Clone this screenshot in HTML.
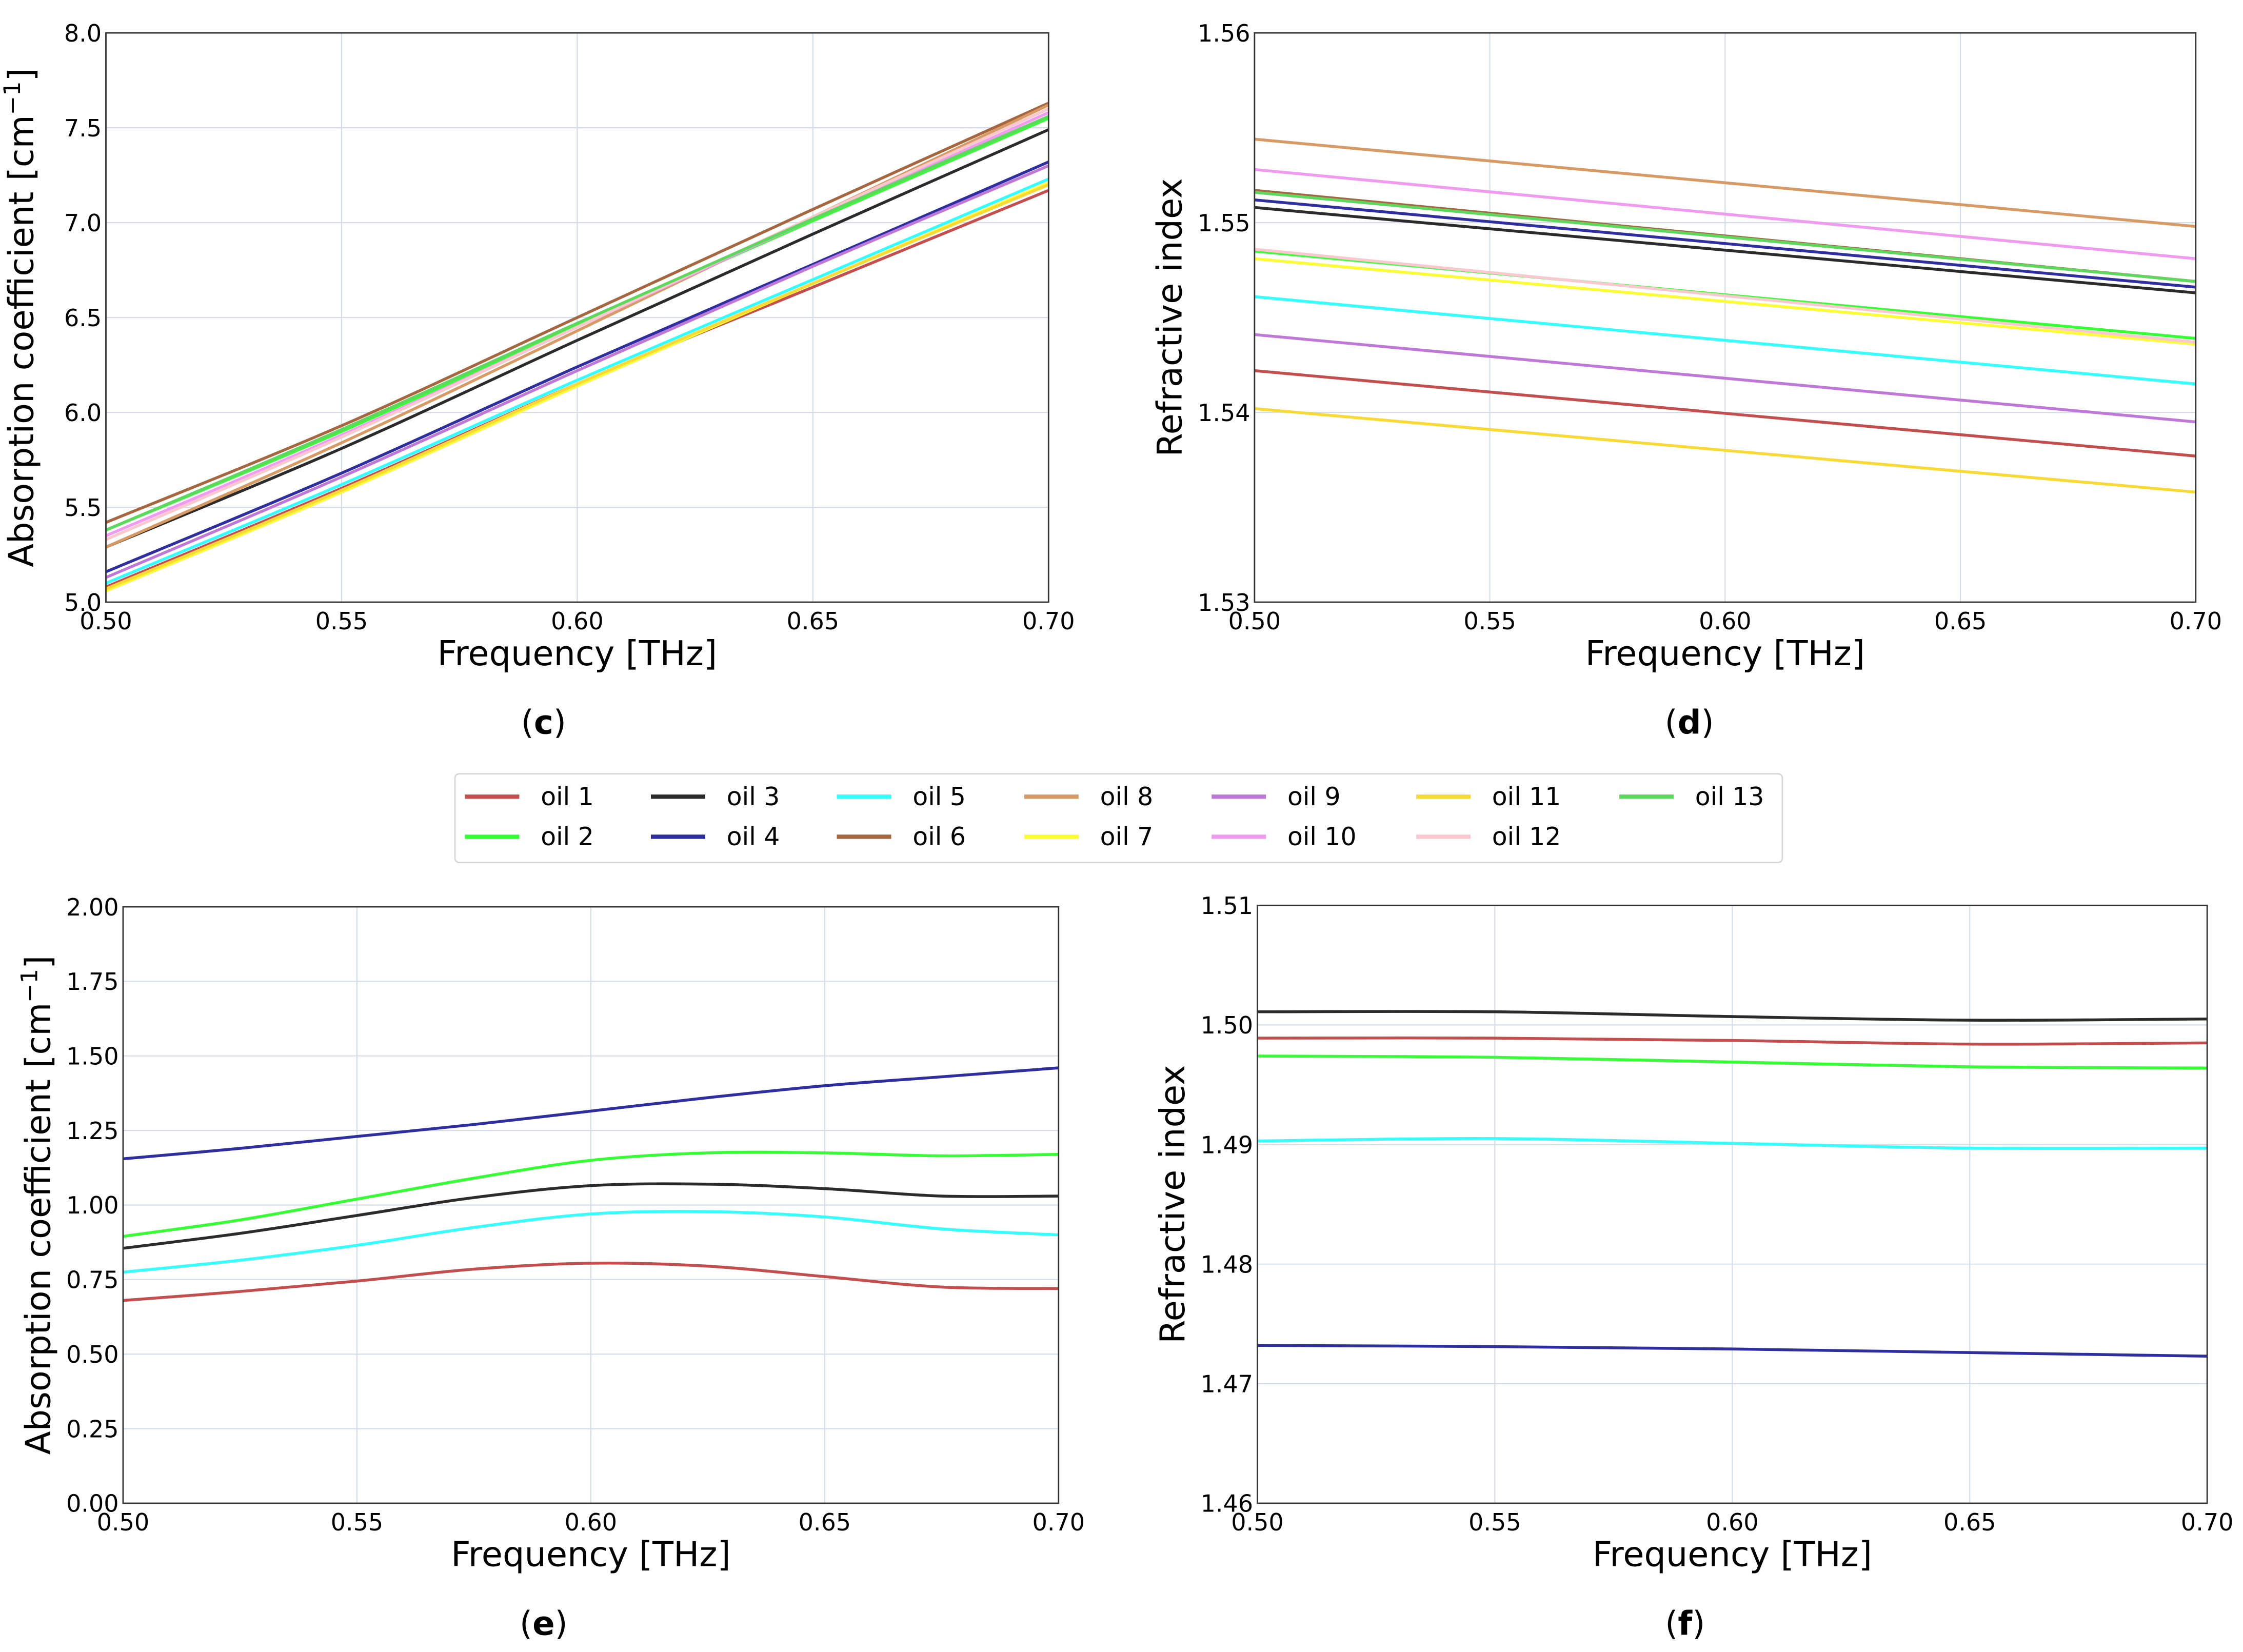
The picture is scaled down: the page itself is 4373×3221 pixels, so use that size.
<!DOCTYPE html>
<html><head><meta charset="utf-8"><style>
html,body{margin:0;padding:0;background:#fff}
svg{display:block}
text{font-family:"DejaVu Sans","Liberation Sans",sans-serif;fill:#000}
</style></head><body>
<svg id="fig" width="4373" height="3221" viewBox="0 0 1568 1155" xmlns="http://www.w3.org/2000/svg"></svg>
<script>
const oilNames=["oil 1","oil 2","oil 3","oil 4","oil 5","oil 6","oil 7","oil 8","oil 9","oil 10","oil 11","oil 12","oil 13"];
const oilColors=["#c44e4e","#33ff33","#2b2b2b","#2e2ea0","#33ffff","#a66640","#fcfc33","#d89a64","#c078d8","#f09af0","#f9d933","#fbc8d0","#5cd85c"];
const legendRow1=[0,2,4,7,8,10,12];
const legendRow2=[1,3,5,6,9,11];
const freqC=[0.5,0.55,0.6,0.65,0.7];
const absC=[
[5.08,5.60,6.15,6.66,7.17],
[5.38,5.90,6.46,7.01,7.55],
[5.29,5.81,6.38,6.94,7.49],
[5.16,5.68,6.24,6.78,7.32],
[5.10,5.62,6.17,6.70,7.23],
[5.42,5.93,6.50,7.07,7.63],
[5.06,5.58,6.14,6.68,7.21],
[5.29,5.84,6.43,7.03,7.62],
[5.13,5.66,6.22,6.77,7.30],
[5.35,5.88,6.45,7.02,7.58],
[5.07,5.59,6.15,6.68,7.20],
[5.33,5.87,6.45,7.03,7.60],
[5.38,5.91,6.47,7.02,7.56]];
const freqD=[0.5,0.7];
const riD=[
[1.5422,1.5377],[1.5485,1.5439],[1.5508,1.5463],[1.5512,1.5466],[1.5461,1.5415],
[1.5517,1.5469],[1.5481,1.5436],[1.5544,1.5498],[1.5441,1.5395],[1.5528,1.5481],
[1.5402,1.5358],[1.5486,1.5437],[1.5516,1.5469]];
const freqE=[0.5,0.525,0.55,0.575,0.6,0.625,0.65,0.675,0.7];
const oilsE=[0,1,2,3,4];
const absE=[
[0.68,0.71,0.745,0.785,0.805,0.795,0.76,0.725,0.72],
[0.895,0.95,1.02,1.09,1.15,1.175,1.175,1.165,1.17],
[0.855,0.905,0.965,1.025,1.065,1.07,1.055,1.03,1.03],
[1.155,1.19,1.23,1.27,1.315,1.36,1.40,1.43,1.46],
[0.775,0.815,0.865,0.925,0.97,0.978,0.96,0.92,0.90]];
const freqF=[0.5,0.55,0.6,0.65,0.7];
const riF=[
[1.4989,1.4989,1.4987,1.4984,1.4985],
[1.4974,1.4973,1.4969,1.4965,1.4964],
[1.5011,1.5011,1.5007,1.5004,1.5005],
[1.4732,1.4731,1.4729,1.4726,1.4723],
[1.4903,1.4905,1.4901,1.4897,1.4897]];
const xTicks=[0.5,0.55,0.6,0.65,0.7];
const xTickLabels=["0.50","0.55","0.60","0.65","0.70"];
const yTicksC=[5,5.5,6,6.5,7,7.5,8];
const yTicksD=[1.53,1.54,1.55,1.56];
const yTicksE=[0,0.25,0.5,0.75,1,1.25,1.5,1.75,2];
const yTicksF=[1.46,1.47,1.48,1.49,1.50,1.51];

const NS="http://www.w3.org/2000/svg";
const svg=document.getElementById('fig');
function mk(tag,attrs,parent){const e=document.createElementNS(NS,tag);for(const k in attrs)e.setAttribute(k,attrs[k]);(parent||svg).appendChild(e);return e;}
function smoothPath(pts){
  if(pts.length<3){return "M"+pts.map(p=>p[0].toFixed(2)+","+p[1].toFixed(2)).join("L");}
  let d="M"+pts[0][0]+","+pts[0][1];
  for(let i=0;i<pts.length-1;i++){
    const p0=pts[i-1]||pts[i],p1=pts[i],p2=pts[i+1],p3=pts[i+2]||p2;
    const c1=[p1[0]+(p2[0]-p0[0])/6,p1[1]+(p2[1]-p0[1])/6];
    const c2=[p2[0]-(p3[0]-p1[0])/6,p2[1]-(p3[1]-p1[1])/6];
    d+="C"+c1.join(",")+" "+c2.join(",")+" "+p2.join(",");
  }
  return d;
}
function panel(id,box,ymin,ymax,yTicks,yDec,ytitle,xs,series,idx,letter,lx){
  const g=mk('g',{});
  
  
  const [x0,x1,y0,y1]=box;
  const sx=v=>x0+(v-0.5)/0.2*(x1-x0);
  const sy=v=>y1-(v-ymin)/(ymax-ymin)*(y1-y0);
  xTicks.forEach((t,i)=>{
    const l=mk('line',{x1:sx(t),x2:sx(t),y1:y0,y2:y1,stroke:'#d5dde8','stroke-width':0.8},g);
    
    
    const tx=mk('text',{x:sx(t),y:y1+19,'font-size':16.5,'text-anchor':'middle'},g);
    tx.textContent=xTickLabels[i];
    
    
  });
  yTicks.forEach(t=>{
    const l=mk('line',{x1:x0,x2:x1,y1:sy(t),y2:sy(t),stroke:'#d5dde8','stroke-width':0.8},g);
    
    
    const tx=mk('text',{x:x0-3,y:sy(t)+6,'font-size':16.5,'text-anchor':'end'},g);
    tx.textContent=t.toFixed(yDec);
    
    
  });
  series.forEach((vals,k)=>{
    const pts=vals.map((v,i)=>[sx(xs[i]),sy(v)]);
    const p=mk('path',{d:smoothPath(pts),fill:'none',stroke:oilColors[idx[k]],'stroke-width':2},g);
    
    
  });
  const r=mk('rect',{x:x0,y:y0,width:x1-x0,height:y1-y0,fill:'none',stroke:'#333','stroke-width':1},g);
  
  
  const xt=mk('text',{x:(x0+x1)/2,y:y1+44,'font-size':24,'text-anchor':'middle'},g);
  xt.textContent='Frequency [THz]';
  
  
  const yx=x0-51,yy=(y0+y1)/2;
  const yt=mk('text',{x:yx,y:yy,'font-size':24,'text-anchor':'middle',transform:`rotate(-90 ${yx} ${yy})`},g);
  yt.innerHTML=ytitle;
  
  
  const lt=mk('text',{x:lx,y:y1+92,'font-size':23,'text-anchor':'middle','font-family':'Liberation Serif, serif'},g);
  lt.innerHTML='(<tspan font-weight="bold">'+letter+'</tspan>)';
  
  
}
const absTitle='Absorption coefficient [cm<tspan dy="-9" font-size="16">−1</tspan><tspan dy="9">]</tspan>';
panel('panel-c',[74,733,23,421],5,8,yTicksC,1,absTitle,freqC,absC,absC.map((_,i)=>i),'c',380);
panel('panel-d',[877,1535,23,421],1.53,1.56,yTicksD,2,'Refractive index',freqD,riD,riD.map((_,i)=>i),'d',1181);
panel('panel-e',[86,740,634,1051],0,2,yTicksE,2,absTitle,freqE,absE,oilsE,'e',380);
panel('panel-f',[879,1543,633,1051],1.46,1.51,yTicksF,2,'Refractive index',freqF,riF,oilsE,'f',1178);

const lg=mk('g',{});


const lb=mk('rect',{x:318,y:541,width:928,height:62,rx:3,fill:'#fff',stroke:'#d6d6d6','stroke-width':1},lg);


const colX=[325,455,585,716,847,990,1132];
[legendRow1,legendRow2].forEach((row,r)=>{
  row.forEach((i,c)=>{
    const y=r?585:557;
    const e=mk('g',{},lg);
    
    
    mk('line',{x1:colX[c],x2:colX[c]+38,y1:y,y2:y,stroke:oilColors[i],'stroke-width':3},e);
    const t=mk('text',{x:colX[c]+53,y:y+6,'font-size':17.5},e);
    t.textContent=oilNames[i];
  });
});
</script>
</body></html>
